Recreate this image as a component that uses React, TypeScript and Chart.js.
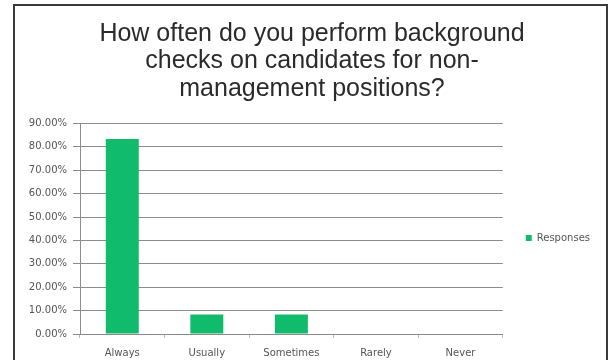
import React, { useEffect, useRef } from "react";
import { Chart, registerables } from "chart.js";

Chart.register(...registerables);

const titleLines = [
  "How often do you perform background",
  "checks on candidates for non-",
  "management positions?",
];
const categories = ["Always", "Usually", "Sometimes", "Rarely", "Never"];
const responses = [83.33, 8.33, 8.33, 0, 0];
const seriesName = "Responses";
const yMin = 0;
const yMax = 90;
const yStep = 10;

export default function App() {
  const ref = useRef<HTMLCanvasElement | null>(null);

  useEffect(() => {
    if (!ref.current) return;
    const small = { family: "'DejaVu Sans', sans-serif", size: 10 };
    const chart = new Chart(ref.current, {
      type: "bar",
      data: {
        labels: categories,
        datasets: [
          {
            label: seriesName,
            data: responses,
            backgroundColor: "#10BC6C",
            borderWidth: 0,
            categoryPercentage: 1,
            barPercentage: 0.39,
          },
        ],
      },
      options: {
        animation: false,
        responsive: false,
        layout: { padding: { left: 24, top: 10, right: 13, bottom: 1 } },
        plugins: {
          title: {
            display: true,
            text: titleLines,
            color: "#2b2b2b",
            font: { family: "'Liberation Sans', Arial, sans-serif", size: 25, weight: "normal", lineHeight: 1.1 },
            padding: { top: 10, bottom: 21 },
          },
          legend: {
            position: "right",
            title: {
              display: true,
              text: "",
              padding: { top: 0, bottom: 95 },
              font: { size: 10 },
            },
            labels: {
              boxWidth: 6,
              boxHeight: 6,
              padding: 23,
              color: "#555",
              font: small,
            },
          },
          tooltip: { enabled: false },
        },
        scales: {
          x: {
            afterFit: (scale: any) => {
              scale.height = 25;
            },
            grid: {
              display: true,
              drawOnChartArea: false,
              drawTicks: true,
              tickLength: 4,
              color: "#bdbdbd",
              offset: true,
            },
            border: { display: true, color: "#8a8a8a", width: 1 },
            ticks: { color: "#555", font: small, padding: 9, maxRotation: 0, autoSkip: false },
          },
          y: {
            min: yMin,
            max: yMax,
            afterFit: (scale: any) => {
              scale.width = 56;
            },
            grid: { color: "#8c8c8c", lineWidth: 1, tickLength: 7 },
            border: { display: true, color: "#8c8c8c", width: 1 },
            ticks: {
              stepSize: yStep,
              color: "#555",
              font: small,
              padding: 6,
              callback: (v: any) => `${Number(v).toFixed(2)}%`,
            },
          },
        },
      },
    });
    return () => chart.destroy();
  }, []);

  return (
    <div style={{ position: "fixed", left: 0, top: 0, width: 613, height: 360, overflow: "hidden", background: "#fff" }}>
      <div
        style={{
          position: "absolute",
          left: 13,
          top: 4,
          width: 595,
          height: 380,
          border: "2px solid #3a3a3a",
          boxSizing: "border-box",
        }}
      />
      <canvas ref={ref} width={613} height={360} style={{ position: "absolute", left: 0, top: 0 }} />
    </div>
  );
}
